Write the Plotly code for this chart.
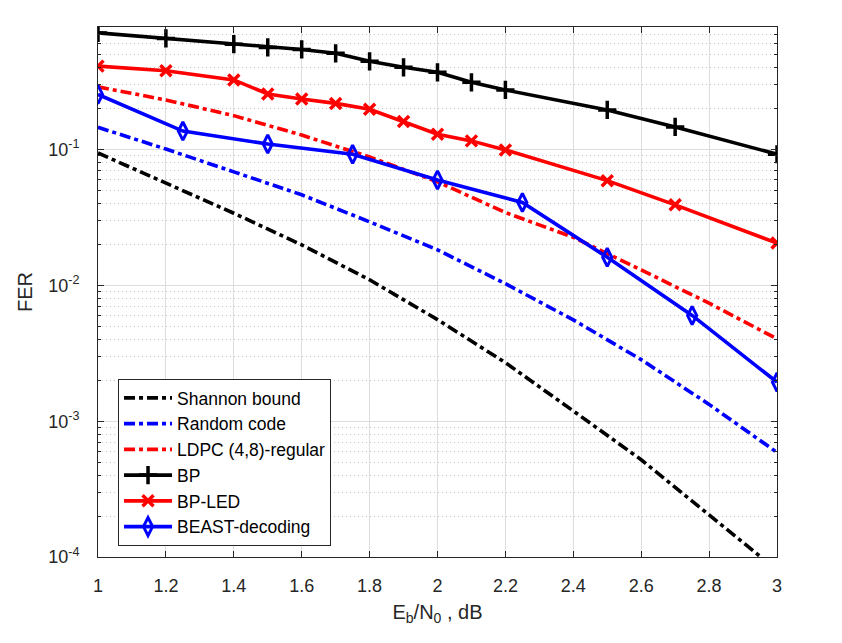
import plotly.graph_objects as go

# ---------------- data ----------------
ebn0_curves = [1.0, 1.2, 1.4, 1.6, 1.8, 2.0, 2.2, 2.4, 2.6, 2.8, 3.0]
shannon_fer = [0.0945, 0.0566, 0.0340, 0.0199, 0.0110, 0.0056, 0.0027, 0.00119, 0.00052, 0.000204, 0.000080]
random_fer = [0.146, 0.101, 0.0686, 0.0465, 0.0294, 0.0183, 0.0103, 0.00558, 0.00284, 0.00133, 0.000589]
ldpc_fer = [0.290, 0.232, 0.178, 0.128, 0.0883, 0.058, 0.0344, 0.0226, 0.0130, 0.0074, 0.00404]

ebn0_bp = [1.0, 1.2, 1.4, 1.5, 1.6, 1.7, 1.8, 1.9, 2.0, 2.1, 2.2, 2.5, 2.7, 3.0]
bp_fer = [0.724, 0.659, 0.598, 0.566, 0.547, 0.512, 0.447, 0.404, 0.371, 0.313, 0.275, 0.196, 0.147, 0.0925]
bpled_fer = [0.412, 0.381, 0.326, 0.257, 0.236, 0.219, 0.198, 0.161, 0.130, 0.116, 0.0995, 0.0591, 0.0392, 0.0205]

ebn0_beast = [1.0, 1.25, 1.5, 1.75, 2.0, 2.25, 2.5, 2.75, 3.0]
beast_fer = [0.255, 0.137, 0.110, 0.0925, 0.0598, 0.0408, 0.0161, 0.00601, 0.00194]

names = ["Shannon bound", "Random code", "LDPC (4,8)-regular", "BP", "BP-LED", "BEAST-decoding"]
x_ticks = [1.0, 1.2, 1.4, 1.6, 1.8, 2.0, 2.2, 2.4, 2.6, 2.8, 3.0]
y_ticks = [1e-4, 1e-3, 1e-2, 1e-1]
y_ticktext = ["10<sup>-4</sup>", "10<sup>-3</sup>", "10<sup>-2</sup>", "10<sup>-1</sup>"]
y_minor = [m * 10.0 ** e for e in (-4, -3, -2, -1) for m in range(2, 10)]

# ---------------- figure ----------------
DASHDOT = "11px,4px,4px,4px"
LW = 3.6
fig = go.Figure()
fig.add_trace(go.Scatter(x=ebn0_curves, y=shannon_fer, mode="lines", name=names[0],
                         line=dict(color="black", width=LW, dash=DASHDOT)))
fig.add_trace(go.Scatter(x=ebn0_curves, y=random_fer, mode="lines", name=names[1],
                         line=dict(color="#0000ff", width=LW, dash=DASHDOT)))
fig.add_trace(go.Scatter(x=ebn0_curves, y=ldpc_fer, mode="lines", name=names[2],
                         line=dict(color="#ff0000", width=LW, dash=DASHDOT)))
fig.add_trace(go.Scatter(x=ebn0_bp, y=bp_fer, mode="lines+markers", name=names[3],
                         line=dict(color="black", width=LW),
                         marker=dict(symbol="cross-thin", size=13, color="black",
                                     line=dict(color="black", width=3.5))))
fig.add_trace(go.Scatter(x=ebn0_bp, y=bpled_fer, mode="lines+markers", name=names[4],
                         line=dict(color="#ff0000", width=LW),
                         marker=dict(symbol="x-thin", size=11, color="#ff0000",
                                     line=dict(color="#ff0000", width=3.5))))
fig.add_trace(go.Scatter(x=ebn0_beast, y=beast_fer, mode="lines+markers", name=names[5],
                         line=dict(color="#0000ff", width=LW),
                         marker=dict(symbol="diamond-tall-open", size=13, color="#0000ff",
                                     line=dict(color="#0000ff", width=3))))

AX = "#262626"
FONT = "Liberation Sans, Arial, Helvetica, sans-serif"
fig.update_layout(
    width=842, height=643,
    margin=dict(l=98, r=65, t=27, b=86),
    paper_bgcolor="white", plot_bgcolor="white",
    font=dict(family=FONT, color=AX, size=18),
    showlegend=True,
    legend=dict(x=0.0295, y=0.0208, xanchor="left", yanchor="bottom",
                bgcolor="white", bordercolor=AX, borderwidth=1,
                font=dict(size=17.5, color="black"), tracegroupgap=0,
                itemwidth=48),
    xaxis=dict(range=[1, 3], tickvals=x_ticks,
               ticks="inside", ticklen=6, tickcolor=AX, tickwidth=1,
               showline=True, linecolor=AX, linewidth=1, mirror="ticks",
               showgrid=True, gridcolor="#dedede", gridwidth=1,
               zeroline=False, tickfont=dict(size=18, color=AX),
               ticklabelstandoff=12,
               title=dict(text="E<sub>b</sub>/N<sub>0</sub> , dB",
                          font=dict(size=20, color=AX), standoff=10)),
    yaxis=dict(type="log", range=[-4, -0.0969],
               tickvals=y_ticks, ticktext=y_ticktext,
               ticks="inside", ticklen=6, tickcolor=AX, tickwidth=1,
               showline=True, linecolor=AX, linewidth=1, mirror="ticks",
               showgrid=True, gridcolor="#dedede", gridwidth=1,
               zeroline=False, tickfont=dict(size=18, color=AX),
               ticklabelstandoff=14,
               minor=dict(tickvals=y_minor, ticks="inside", ticklen=3,
                          tickcolor=AX, showgrid=True, gridcolor="#c4c4c4",
                          griddash="1px,3px", gridwidth=1),
               title=dict(text="FER", font=dict(size=20, color=AX), standoff=10)),
)

fig.write_html("out.html")
